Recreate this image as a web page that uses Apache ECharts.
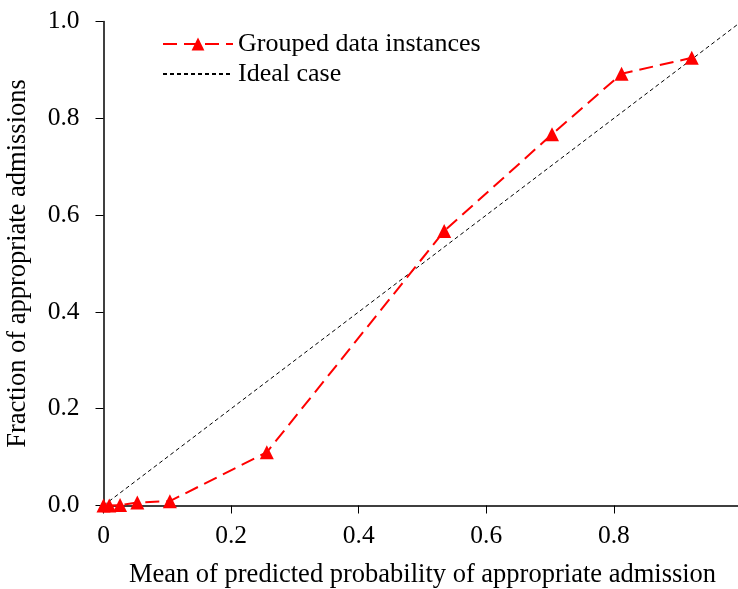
<!DOCTYPE html>
<html>
<head>
<meta charset="utf-8">
<script src="https://cdn.jsdelivr.net/npm/echarts@6/dist/echarts.min.js"></script>
<style>html,body{margin:0;padding:0;background:#fff;}#c{width:738px;height:589px;}</style>
</head>
<body>
<div id="c"></div>
<script>
var meanPredicted = [0.000, 0.009, 0.026, 0.053, 0.104, 0.256, 0.534, 0.703, 0.812, 0.922];
var fractionAppropriate = [0.000, 0.000, 0.001, 0.006, 0.009, 0.110, 0.567, 0.767, 0.892, 0.925];
var idealX = [0, 1];
var idealY = [0, 1];
var seriesNames = ['Grouped data instances', 'Ideal case'];
var xTitle = 'Mean of predicted probability of appropriate admission';
var yTitle = 'Fraction of appropriate admissions';

var font = 'Liberation Serif, Times New Roman, serif';
var grouped = meanPredicted.map(function (x, i) { return [x, fractionAppropriate[i]]; });
var ideal = idealX.map(function (x, i) { return [x, idealY[i]]; });

var chart = echarts.init(document.getElementById('c'), null, {renderer: 'canvas'});
chart.setOption({
  animation: false,
  backgroundColor: '#fff',
  textStyle: {fontFamily: font},
  grid: {left: 103.5, right: -3.5, top: 21.5, bottom: 83.5, containLabel: false, outerBoundsMode: 'none'},
  legend: {
    orient: 'vertical', left: 162, top: 31, padding: 0,
    itemWidth: 70, itemHeight: 16, itemGap: 4,
    textStyle: {fontFamily: font, fontSize: 26, color: '#000', lineHeight: 26},
    data: [seriesNames[0], {name: seriesNames[1], itemStyle: {opacity: 0}}]
  },
  xAxis: {
    type: 'value', min: 0, max: 1, interval: 0.2,
    name: xTitle, nameLocation: 'middle', nameGap: 56,
    nameTextStyle: {fontFamily: font, fontSize: 26.5, color: '#000'},
    axisLine: {onZero: false, lineStyle: {color: '#000', width: 1.5}},
    axisTick: {show: true, inside: false, length: 8, lineStyle: {color: '#000', width: 1}},
    axisLabel: {fontFamily: font, fontSize: 25.5, color: '#000', margin: 18, showMaxLabel: false,
      formatter: function (v) { return v === 0 ? '0' : v.toFixed(1); }},
    splitLine: {show: false}
  },
  yAxis: {
    type: 'value', min: 0, max: 1, interval: 0.2,
    name: yTitle, nameLocation: 'middle', nameGap: 72,
    nameTextStyle: {fontFamily: font, fontSize: 26.5, color: '#000'},
    axisLine: {onZero: false, lineStyle: {color: '#000', width: 1.5}},
    axisTick: {show: true, inside: false, length: 8, lineStyle: {color: '#000', width: 1}},
    axisLabel: {fontFamily: font, fontSize: 25.5, color: '#000', margin: 24,
      formatter: function (v) { return v.toFixed(1); }},
    splitLine: {show: false}
  },
  series: [
    {
      name: seriesNames[0], type: 'line', data: grouped, clip: false,
      symbol: 'triangle', symbolSize: 14, z: 3,
      itemStyle: {color: '#ff0000'},
      lineStyle: {color: '#ff0000', width: 2, type: [14, 7]}
    },
    {
      name: seriesNames[1], type: 'line', data: ideal, clip: false,
      symbol: 'none', z: 2,
      itemStyle: {color: '#000'},
      lineStyle: {color: '#000', width: 1, type: [4, 3]}
    }
  ]
});
</script>
</body>
</html>
